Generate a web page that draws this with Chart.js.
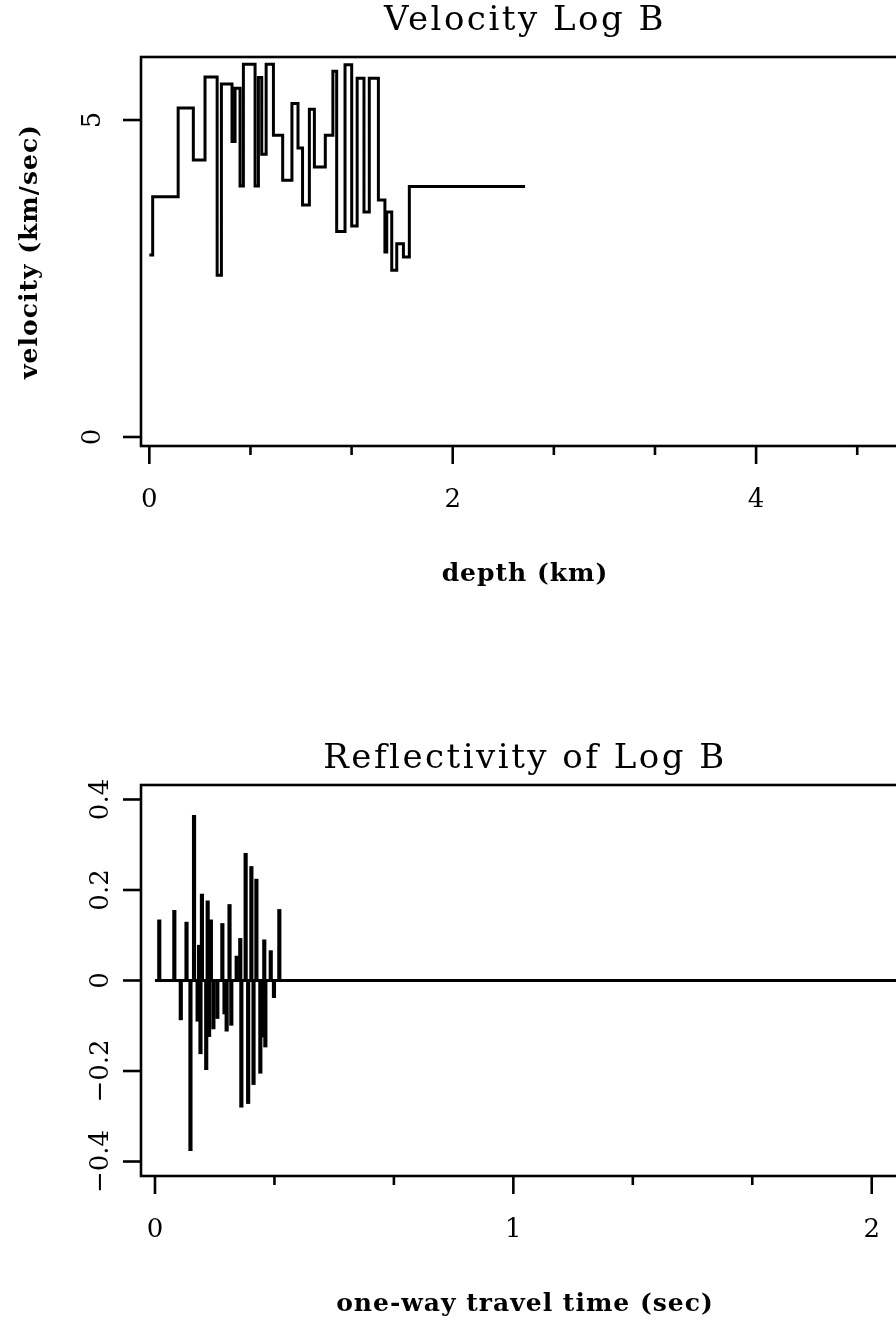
<!DOCTYPE html>
<html>
<head>
<meta charset="utf-8">
<title>Velocity Log B</title>
<script src="https://cdn.jsdelivr.net/npm/chart.js@4.4.1/dist/chart.umd.min.js"></script>
<style>
  html, body { margin: 0; padding: 0; background: #fff; overflow: hidden; }
  canvas { display: block; }
</style>
</head>
<body>
<canvas id="velocity-chart" width="960" height="650"></canvas>
<canvas id="refl-chart" width="960" height="669"></canvas>
<script>
// velocity log: depth of each layer top (km) and its velocity (km/sec)
const depthKm = [0, 0.022, 0.19, 0.29, 0.367, 0.447, 0.475, 0.545, 0.565, 0.598,
  0.62, 0.697, 0.719, 0.741, 0.77, 0.818, 0.879, 0.94, 0.98, 1.01,
  1.055, 1.088, 1.16, 1.21, 1.235, 1.29, 1.334, 1.37, 1.415, 1.45,
  1.51, 1.553, 1.565, 1.598, 1.631, 1.675, 1.714, 2.477];
const velocity = [2.87, 3.79, 5.19, 4.37, 5.68, 2.55, 5.57, 4.66, 5.50, 3.96,
  5.88, 3.96, 5.67, 4.46, 5.88, 4.76, 4.05, 5.26, 4.56, 3.66,
  5.17, 4.26, 4.76, 5.77, 3.24, 5.87, 3.33, 5.66, 3.55, 5.66,
  3.74, 2.92, 3.55, 2.63, 3.05, 2.84, 3.95, 3.95];

// reflectivity spikes: one-way time (sec) and reflection coefficient
const timeSec = [0.012, 0.054, 0.072, 0.088, 0.099, 0.109, 0.119, 0.123, 0.127, 0.131,
  0.143, 0.147, 0.151, 0.156, 0.163, 0.174, 0.188, 0.194, 0.200, 0.208,
  0.213, 0.228, 0.238, 0.241, 0.253, 0.260, 0.269, 0.275, 0.283, 0.294,
  0.300, 0.305, 0.308, 0.323, 0.332, 0.347];
const reflectivity = [0.134, 0.155, -0.087, 0.129, -0.376, 0.365, -0.090, 0.078, -0.162, 0.191,
  -0.197, 0.176, -0.124, 0.134, -0.107, -0.084, 0.126, -0.074, -0.112, 0.168,
  -0.099, 0.054, 0.093, -0.280, 0.281, -0.272, 0.252, -0.230, 0.224, -0.205,
  -0.125, 0.090, -0.147, 0.066, -0.038, 0.157];

// zero line of the trace
const baseTime = [0, 2.2];
const baseRefl = [0, 0];

// axis ticks (empty label = short unlabelled tick)
const depthTicks  = [0, 2/3, 4/3, 2, 8/3, 10/3, 4, 14/3];
const depthLabels = ["0", "", "", "2", "", "", "4", ""];
const velTicks  = [0, 5];
const velLabels = ["0", "5"];
const timeTicks  = [0, 1/3, 2/3, 1, 4/3, 5/3, 2];
const timeLabels = ["0", "", "", "1", "", "", "2"];
const reflTicks  = [-0.4, -0.2, 0, 0.2, 0.4];
const reflLabels = ["\u22120.4", "\u22120.2", "0", "0.2", "0.4"];

const SERIF = "'DejaVu Serif', 'Liberation Serif', serif";

// frame, ticks and texts, drawn from the chart's own scales
function framePlugin(cfg) {
  return {
    id: "frame",
    afterDatasetsDraw(chart) {
      const { ctx, chartArea: a, scales: { x, y } } = chart;
      ctx.save();
      ctx.strokeStyle = "#000";
      ctx.fillStyle = "#000";
      ctx.lineWidth = 2.6;
      ctx.lineCap = "butt";
      ctx.strokeRect(a.left, a.top, a.right - a.left, a.bottom - a.top);

      const seg = (x1, y1, x2, y2) => {
        ctx.beginPath();
        ctx.moveTo(x1, y1);
        ctx.lineTo(x2, y2);
        ctx.stroke();
      };

      // x axis ticks + labels
      ctx.font = "26px " + SERIF;
      ctx.textAlign = "center";
      ctx.textBaseline = "alphabetic";
      cfg.xTicks.forEach((v, i) => {
        const px = x.getPixelForValue(v);
        const lab = cfg.xLabels[i];
        seg(px, a.bottom, px, a.bottom + (lab ? 18 : 9));
        if (lab) ctx.fillText(lab, px, a.bottom + 61);
      });

      // y axis ticks + rotated labels
      cfg.yTicks.forEach((v, i) => {
        const py = y.getPixelForValue(v);
        seg(a.left - 18, py, a.left, py);
        ctx.save();
        ctx.translate(a.left - cfg.yLabelGap, py);
        ctx.rotate(-Math.PI / 2);
        ctx.fillText(cfg.yLabels[i], 0, 0);
        ctx.restore();
      });

      // chart title
      ctx.font = "34px " + SERIF;
      ctx.letterSpacing = "2.5px";
      ctx.fillText(cfg.title, (a.left + a.right) / 2, a.top - cfg.titleGap);

      // axis titles
      ctx.font = "bold 25px " + SERIF;
      ctx.letterSpacing = "1px";
      ctx.fillText(cfg.xTitle, (a.left + a.right) / 2, a.bottom + 135);
      if (cfg.yTitle) {
        ctx.save();
        ctx.translate(a.left - 104, (a.top + a.bottom) / 2);
        ctx.rotate(-Math.PI / 2);
        ctx.fillText(cfg.yTitle, 0, 0);
        ctx.restore();
      }
      ctx.restore();
    }
  };
}

const noExtras = {
  legend: { display: false },
  title: { display: false },
  tooltip: { enabled: false }
};

// 速度ログ
new Chart(document.getElementById("velocity-chart"), {
  type: "line",
  data: {
    datasets: [{
      data: depthKm.map((d, i) => ({ x: d, y: velocity[i] })),
      stepped: true,
      borderColor: "#000",
      borderWidth: 3,
      pointRadius: 0,
      fill: false
    }]
  },
  options: {
    responsive: false,
    animation: false,
    layout: { padding: { left: 141, right: 51, top: 57, bottom: 204 } },
    plugins: noExtras,
    scales: {
      x: { type: "linear", display: false, min: -0.055, max: 5.008 },
      y: { type: "linear", display: false, min: -0.142, max: 5.994 }
    }
  },
  plugins: [framePlugin({
    title: "Velocity Log B", titleGap: 27,
    xTitle: "depth (km)", yTitle: "velocity (km/sec)",
    xTicks: depthTicks, xLabels: depthLabels,
    yTicks: velTicks, yLabels: velLabels, yLabelGap: 41
  })]
});

// 反射係数
new Chart(document.getElementById("refl-chart"), {
  type: "bar",
  data: {
    datasets: [{
      type: "line",
      data: baseTime.map((t, i) => ({ x: t, y: baseRefl[i] })),
      borderColor: "#000",
      borderWidth: 3,
      pointRadius: 0,
      fill: false
    }, {
      type: "bar",
      data: timeSec.map((t, i) => ({ x: t, y: reflectivity[i] })),
      backgroundColor: "#000",
      borderWidth: 0,
      barThickness: 3.5,
      grouped: false
    }]
  },
  options: {
    responsive: false,
    animation: false,
    layout: { padding: { left: 141, right: 51, top: 135, bottom: 143 } },
    plugins: noExtras,
    scales: {
      x: { type: "linear", display: false, offset: false, min: -0.039, max: 2.104 },
      y: { type: "linear", display: false, min: -0.432, max: 0.432 }
    }
  },
  plugins: [framePlugin({
    title: "Reflectivity of Log B", titleGap: 17,
    xTitle: "one-way travel time (sec)", yTitle: null,
    xTicks: timeTicks, xLabels: timeLabels,
    yTicks: reflTicks, yLabels: reflLabels, yLabelGap: 33
  })]
});
</script>
</body>
</html>
